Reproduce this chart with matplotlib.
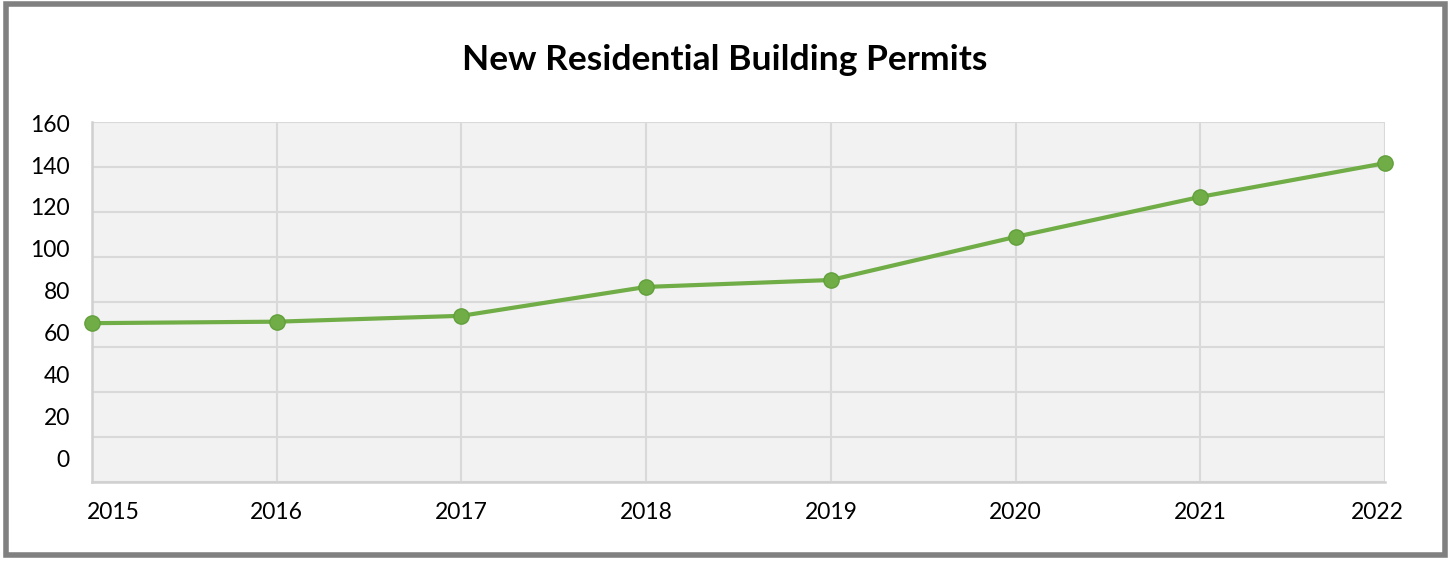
import matplotlib.pyplot as plt
import matplotlib.patches as mpatches
import matplotlib.transforms as mtransforms
import numpy as np

plt.rcParams['font.family'] = ['Lato', 'DejaVu Sans']

years = [2015, 2016, 2017, 2018, 2019, 2020, 2021, 2022]
permits = [64.5, 65.2, 68.0, 81.8, 85.1, 105.7, 124.8, 140.9]
ytick_vals = [0, 20, 40, 60, 80, 100, 120, 140, 160]

W, H = 1448, 561
fig = plt.figure(figsize=(W / 100, H / 100), dpi=100)

# plot area in pixels
left, right, top, bottom = 92, 1385, 121.7, 482.3
ax = fig.add_axes([left / W, 1 - bottom / H, (right - left) / W, (bottom - top) / H])
ax.set_facecolor('#f2f2f2')

ax.plot(years, permits, color='#70ad47', lw=3, marker='o', ms=11,
        mfc='#70ad47', mec='#62a03c', mew=1, clip_on=False, zorder=5)

ax.set_xlim(2015, 2022)
ylo, yhi = -11.5, 160.7
ax.set_ylim(ylo, yhi)

ax.set_xticks(years)
ax.set_xticklabels([str(y) for y in years])
ax.set_yticks(ytick_vals)
ax.set_yticklabels([str(v) for v in ytick_vals])
# gridlines are evenly spaced over the plot area (as in the original)
ax.set_yticks(np.linspace(ylo, yhi, 9), minor=True)

ax.tick_params(axis='both', which='both', length=0, labelsize=16.5, colors='black')
ax.tick_params(axis='y', pad=16)
ax.tick_params(axis='x', pad=14)
ax.grid(False, which='major', axis='y')
ax.grid(True, which='minor', axis='y', color='#d9d9d9', lw=1.5)
ax.grid(True, which='major', axis='x', color='#d9d9d9', lw=1.5)
ax.set_axisbelow(True)

# first and last year labels sit inside the plot edges
xlabels = ax.get_xticklabels()
xlabels[0].set_transform(xlabels[0].get_transform() +
                         mtransforms.ScaledTranslation(21 / 100, 0, fig.dpi_scale_trans))
xlabels[-1].set_transform(xlabels[-1].get_transform() +
                          mtransforms.ScaledTranslation(-7.5 / 100, 0, fig.dpi_scale_trans))

for s in ax.spines.values():
    s.set_visible(False)
ax.spines['left'].set_visible(True)
ax.spines['bottom'].set_visible(True)
ax.spines['left'].set_color('#d0d0d0')
ax.spines['bottom'].set_color('#d0d0d0')
ax.spines['left'].set_linewidth(1.8)
ax.spines['bottom'].set_linewidth(1.8)

fig.text(725 / W, 1 - 60 / H, 'New Residential Building Permits', ha='center', va='center',
         fontsize=25.5, fontweight='bold')

# outer gray frame
fig.patches.append(mpatches.Rectangle((6 / W, 1 - 555 / H), (1445 - 6) / W, (555 - 3.5) / H,
                                      transform=fig.transFigure, fill=False,
                                      ec='#808080', lw=4))

fig.savefig('out.png', dpi=100)
